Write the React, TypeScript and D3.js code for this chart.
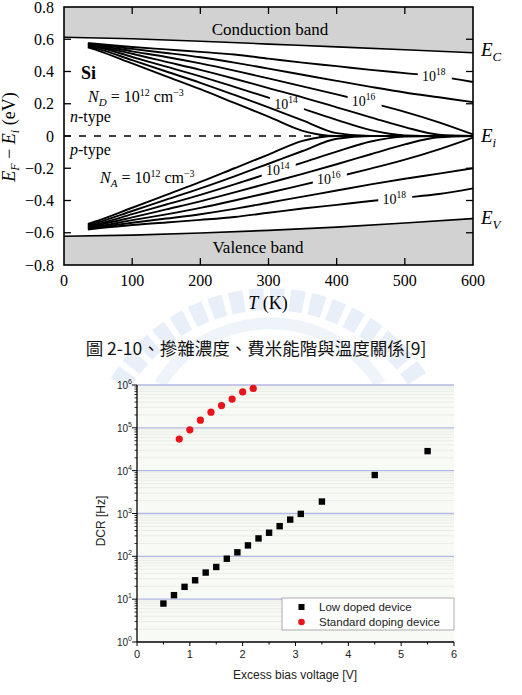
import * as d3 from "d3";

// ---- top chart: Fermi level vs temperature (Si) ----
const tempK = [35, 50, 100, 150, 200, 250, 300, 350, 400, 450, 500, 550, 600];
const bandT = [0, 100, 200, 300, 400, 500, 600];
const condEdge = [0.612, 0.603, 0.588, 0.57, 0.553, 0.535, 0.516];
const valEdge = [-0.622, -0.615, -0.602, -0.585, -0.565, -0.54, -0.512];

const nType12 = [0.55, 0.53, 0.45, 0.37, 0.29, 0.205, 0.12, 0.032, 0, 0, 0, 0, 0];
const nType13 = [0.555, 0.54, 0.47, 0.4, 0.33, 0.255, 0.178, 0.097, 0.018, 0, 0, 0, 0];
const nType14 = [0.56, 0.55, 0.49, 0.43, 0.37, 0.305, 0.238, 0.17, 0.1, 0.036, 0.004, 0, 0];
const nType15 = [0.565, 0.555, 0.51, 0.46, 0.41, 0.355, 0.297, 0.24, 0.178, 0.116, 0.055, 0.008, 0];
const nType16 = [0.57, 0.562, 0.525, 0.49, 0.45, 0.405, 0.357, 0.308, 0.258, 0.206, 0.15, 0.085, 0.01];
const nType17 = [0.573, 0.567, 0.54, 0.515, 0.488, 0.455, 0.418, 0.38, 0.342, 0.305, 0.27, 0.24, 0.21];
const nType18 = [0.576, 0.571, 0.552, 0.537, 0.522, 0.505, 0.48, 0.455, 0.433, 0.41, 0.39, 0.37, 0.335];

const pType12 = [-0.545, -0.525, -0.445, -0.365, -0.285, -0.2, -0.115, -0.03, 0, 0, 0, 0, 0];
const pType13 = [-0.552, -0.535, -0.465, -0.395, -0.325, -0.25, -0.172, -0.093, -0.017, 0, 0, 0, 0];
const pType14 = [-0.558, -0.545, -0.485, -0.425, -0.365, -0.3, -0.232, -0.165, -0.097, -0.034, -0.004, 0, 0];
const pType15 = [-0.564, -0.552, -0.505, -0.455, -0.405, -0.35, -0.292, -0.235, -0.175, -0.113, -0.052, -0.008, 0];
const pType16 = [-0.57, -0.56, -0.522, -0.486, -0.446, -0.4, -0.352, -0.303, -0.254, -0.202, -0.147, -0.083, -0.01];
const pType17 = [-0.575, -0.567, -0.538, -0.512, -0.485, -0.452, -0.414, -0.376, -0.338, -0.3, -0.265, -0.233, -0.2];
const pType18 = [-0.58, -0.573, -0.552, -0.536, -0.52, -0.502, -0.476, -0.45, -0.427, -0.403, -0.382, -0.36, -0.325];

const nCurves = [nType12, nType13, nType14, nType15, nType16, nType17, nType18];
const pCurves = [pType12, pType13, pType14, pType15, pType16, pType17, pType18];
const curveExp = ["12", "13", "14", "15", "16", "17", "18"];
// labelled curves: exponent -> temperature where the label sits
const nLabelAt: Record<string, number> = { "14": 327, "16": 441, "18": 544 };
const pLabelAt: Record<string, number> = { "14": 315, "16": 390, "18": 486 };

const yTicks = [-0.8, -0.6, -0.4, -0.2, 0, 0.2, 0.4, 0.6, 0.8];
const yTickLabels = ["\u22120.8", "\u22120.6", "\u22120.4", "\u22120.2", "0", "0.2", "0.4", "0.6", "0.8"];
const tTicks = [0, 100, 200, 300, 400, 500, 600];

// ---- bottom chart: DCR vs excess bias ----
const lowBias = [0.5, 0.7, 0.9, 1.1, 1.3, 1.5, 1.7, 1.9, 2.1, 2.3, 2.5, 2.7, 2.9, 3.1, 3.5, 4.5, 5.5];
const lowDcr = [7.9, 12.4, 19.4, 27.6, 41.8, 56.4, 88, 124, 180, 262, 356, 506, 720, 980, 1900, 7900, 28600];
const stdBias = [0.8, 1.0, 1.2, 1.4, 1.6, 1.8, 2.0, 2.2];
const stdDcr = [54600, 89700, 151000, 232000, 330000, 470000, 690000, 830000];
const decades = [0, 1, 2, 3, 4, 5, 6];
const biasTicks = [0, 1, 2, 3, 4, 5, 6];

const SERIF = '"Liberation Serif", serif';
const SANS = '"Liberation Sans", Arial, sans-serif';
const CJK = '"Noto Sans CJK TC", "Noto Sans CJK SC", sans-serif';

function FermiChart() {
  const x = d3.scaleLinear().domain([0, 600]).range([64, 473]);
  const y = d3.scaleLinear().domain([-0.8, 0.8]).range([265, 7]);
  const [x0, x1] = x.range();
  const yTop = y(0.8);
  const yBot = y(-0.8);

  const curve = d3
    .line<number>()
    .x((_, i) => x(tempK[i]))
    .y((v) => y(v))
    .curve(d3.curveMonotoneX);
  const edge = d3
    .line<number>()
    .x((_, i) => x(bandT[i]))
    .y((v) => y(v))
    .curve(d3.curveMonotoneX);
  const condArea = d3
    .area<number>()
    .x((_, i) => x(bandT[i]))
    .y0(yTop)
    .y1((v) => y(v))
    .curve(d3.curveMonotoneX);
  const valArea = d3
    .area<number>()
    .x((_, i) => x(bandT[i]))
    .y0(yBot)
    .y1((v) => y(v))
    .curve(d3.curveMonotoneX);

  const labelPos = (vals: number[], t: number) => {
    const interp = d3.scaleLinear().domain(tempK).range(vals);
    return { lx: x(t), ly: y(interp(t)) };
  };

  const renderSet = (set: number[][], labels: Record<string, number>, tag: string) =>
    set.map((vals, i) => {
      const e = curveExp[i];
      const t = labels[e];
      if (t === undefined) {
        return <path key={tag + e} d={curve(vals) ?? ""} fill="none" stroke="#000" strokeWidth={1.9} />;
      }
      const { lx, ly } = labelPos(vals, t);
      const id = `gap-${tag}-${e}`;
      return (
        <g key={tag + e}>
          <mask id={id} maskUnits="userSpaceOnUse" x={0} y={0} width={522} height={300}>
            <rect x={0} y={0} width={522} height={300} fill="#fff" />
            <rect x={lx - 17} y={ly - 9} width={34} height={18} fill="#000" />
          </mask>
          <path d={curve(vals) ?? ""} fill="none" stroke="#000" strokeWidth={1.9} mask={`url(#${id})`} />
          <text x={lx - 1} y={ly + 5} fontSize={14} textAnchor="middle" fontFamily={SERIF}>
            10<tspan fontSize={9.5} dy={-6}>{e}</tspan>
          </text>
        </g>
      );
    });

  return (
    <g>
      <path d={condArea(condEdge) ?? ""} fill="#d2d2d2" />
      <path d={valArea(valEdge) ?? ""} fill="#d2d2d2" />
      <path d={edge(condEdge) ?? ""} fill="none" stroke="#000" strokeWidth={1.6} />
      <path d={edge(valEdge) ?? ""} fill="none" stroke="#000" strokeWidth={1.6} />

      <line x1={x0} x2={x1} y1={y(0)} y2={y(0)} stroke="#000" strokeWidth={1.5} strokeDasharray="7 8" />

      {renderSet(nCurves, nLabelAt, "n")}
      {renderSet(pCurves, pLabelAt, "p")}

      {/* frame and ticks */}
      <rect x={x0} y={yTop} width={x1 - x0} height={yBot - yTop} fill="none" stroke="#000" strokeWidth={1.6} />
      {tTicks.slice(1, -1).map((t) => (
        <g key={"tt" + t}>
          <line x1={x(t)} x2={x(t)} y1={yTop} y2={yTop + 7} stroke="#000" strokeWidth={1.3} />
          <line x1={x(t)} x2={x(t)} y1={yBot} y2={yBot - 7} stroke="#000" strokeWidth={1.3} />
        </g>
      ))}
      {yTicks.slice(1, -1).map((v) => (
        <g key={"yt" + v}>
          <line x1={x0} x2={x0 + 7} y1={y(v)} y2={y(v)} stroke="#000" strokeWidth={1.3} />
          <line x1={x1} x2={x1 - 7} y1={y(v)} y2={y(v)} stroke="#000" strokeWidth={1.3} />
        </g>
      ))}

      {yTicks.map((v, i) => (
        <text key={"yl" + v} x={x0 - 10} y={y(v) + 5.5} textAnchor="end" fontFamily={SERIF} fontSize={16}>
          {yTickLabels[i]}
        </text>
      ))}
      {tTicks.map((t) => (
        <text key={"tl" + t} x={x(t)} y={286} textAnchor="middle" fontFamily={SERIF} fontSize={16}>
          {t}
        </text>
      ))}
      <text x={268} y={309} textAnchor="middle" fontFamily={SERIF} fontSize={18}>
        <tspan fontStyle="italic">T</tspan> (K)
      </text>
      <text transform={`translate(15,137) rotate(-90)`} textAnchor="middle" fontFamily={SERIF} fontSize={18}>
        <tspan fontStyle="italic">E</tspan>
        <tspan fontStyle="italic" fontSize={12} dy={4}>F</tspan>
        <tspan dy={-4}> {"\u2212"} </tspan>
        <tspan fontStyle="italic">E</tspan>
        <tspan fontStyle="italic" fontSize={12} dy={4}>i</tspan>
        <tspan dy={-4}> (eV)</tspan>
      </text>

      <text x={270} y={35} textAnchor="middle" fontFamily={SERIF} fontSize={17}>Conduction band</text>
      <text x={258} y={253} textAnchor="middle" fontFamily={SERIF} fontSize={17}>Valence band</text>

      <text x={81} y={79} fontFamily={SERIF} fontSize={18} fontWeight="bold">Si</text>
      <text x={88} y={102} fontFamily={SERIF} fontSize={16}>
        <tspan fontStyle="italic">N</tspan>
        <tspan fontStyle="italic" fontSize={11} dy={4}>D</tspan>
        <tspan dy={-4}> = 10</tspan>
        <tspan fontSize={10} dy={-6}>12</tspan>
        <tspan dy={6}> cm</tspan>
        <tspan fontSize={10} dy={-6}>{"\u22123"}</tspan>
      </text>
      <text x={70} y={122} fontFamily={SERIF} fontSize={16}>
        <tspan fontStyle="italic">n</tspan>-type
      </text>
      <text x={70} y={155} fontFamily={SERIF} fontSize={16}>
        <tspan fontStyle="italic">p</tspan>-type
      </text>
      <text x={100} y={183} fontFamily={SERIF} fontSize={16}>
        <tspan fontStyle="italic">N</tspan>
        <tspan fontStyle="italic" fontSize={11} dy={4}>A</tspan>
        <tspan dy={-4}> = 10</tspan>
        <tspan fontSize={10} dy={-6}>12</tspan>
        <tspan dy={6}> cm</tspan>
        <tspan fontSize={10} dy={-6}>{"\u22123"}</tspan>
      </text>

      <text x={481} y={56} fontFamily={SERIF} fontSize={19}>
        <tspan fontStyle="italic">E</tspan>
        <tspan fontStyle="italic" fontSize={13} dy={5}>C</tspan>
      </text>
      <text x={481} y={142} fontFamily={SERIF} fontSize={19}>
        <tspan fontStyle="italic">E</tspan>
        <tspan fontStyle="italic" fontSize={13} dy={5}>i</tspan>
      </text>
      <text x={481} y={224} fontFamily={SERIF} fontSize={19}>
        <tspan fontStyle="italic">E</tspan>
        <tspan fontStyle="italic" fontSize={13} dy={5}>V</tspan>
      </text>
    </g>
  );
}

function DcrChart() {
  const x = d3.scaleLinear().domain([0, 6]).range([137, 454]);
  const y = d3.scaleLog().domain([1, 1e6]).range([642, 385]);
  const [x0, x1] = x.range();
  const minors: number[] = [];
  decades.slice(0, -1).forEach((d) => {
    for (let k = 2; k <= 9; k++) minors.push(k * Math.pow(10, d));
  });
  const halfTicks = d3.range(0.5, 6, 1);

  return (
    <g>
      <rect x={x0} y={y(1e6)} width={x1 - x0} height={y(1) - y(1e6)} fill="#f8faf5" />
      {minors.map((m) => (
        <line key={"mg" + m} x1={x0} x2={x1} y1={y(m)} y2={y(m)} stroke="#e9ede4" strokeWidth={1} />
      ))}
      {decades.slice(1).map((d) => (
        <line key={"g" + d} x1={x0} x2={x1} y1={y(Math.pow(10, d))} y2={y(Math.pow(10, d))} stroke="#b3b7e2" strokeWidth={1.3} />
      ))}

      {/* axes */}
      <line x1={x0} x2={x0} y1={y(1e6)} y2={y(1)} stroke="#000" strokeWidth={1.3} />
      <line x1={x0} x2={x1} y1={y(1)} y2={y(1)} stroke="#000" strokeWidth={1.3} />
      {minors.map((m) => (
        <line key={"mt" + m} x1={x0 - 2.5} x2={x0} y1={y(m)} y2={y(m)} stroke="#000" strokeWidth={0.8} />
      ))}
      {decades.map((d) => (
        <g key={"yt" + d}>
          <line x1={x0 - 5} x2={x0} y1={y(Math.pow(10, d))} y2={y(Math.pow(10, d))} stroke="#000" strokeWidth={1} />
          <text x={x0 - 5} y={y(Math.pow(10, d)) + 4} fontFamily={SANS} fontSize={10} textAnchor="end" fill="#222">
            10<tspan fontSize={7} dy={-5}>{d}</tspan>
          </text>
        </g>
      ))}
      {biasTicks.map((b) => (
        <g key={"xt" + b}>
          <line x1={x(b)} x2={x(b)} y1={y(1)} y2={y(1) + 4} stroke="#000" strokeWidth={1} />
          <text x={x(b)} y={y(1) + 16} fontFamily={SANS} fontSize={11} textAnchor="middle" fill="#222">{b}</text>
        </g>
      ))}
      {halfTicks.map((b) => (
        <line key={"hx" + b} x1={x(b)} x2={x(b)} y1={y(1)} y2={y(1) + 2.5} stroke="#000" strokeWidth={1} />
      ))}
      <text x={295} y={679} fontFamily={SANS} fontSize={12} textAnchor="middle" fill="#222">Excess bias voltage [V]</text>
      <text transform="translate(105,521) rotate(-90)" fontFamily={SANS} fontSize={12} textAnchor="middle" fill="#222">DCR [Hz]</text>

      {/* data */}
      {lowBias.map((b, i) => (
        <rect key={"lo" + i} x={x(b) - 3.2} y={y(lowDcr[i]) - 3.2} width={6.4} height={6.4} fill="#000" />
      ))}
      {stdBias.map((b, i) => (
        <circle key={"st" + i} cx={x(b)} cy={y(stdDcr[i])} r={3.6} fill="#e8141b" />
      ))}

      {/* legend */}
      <rect x={282} y={598} width={172} height={32} fill="#fff" stroke="#9a9a9a" strokeWidth={0.8} />
      <rect x={298.5} y={604} width={6} height={6} fill="#000" />
      <text x={319} y={611} fontFamily={SANS} fontSize={11.5} fill="#222">Low doped device</text>
      <circle cx={301.5} cy={622} r={3.3} fill="#e8141b" />
      <text x={319} y={626} fontFamily={SANS} fontSize={11.5} fill="#222">Standard doping device</text>
    </g>
  );
}

function Watermark() {
  return (
    <g opacity={0.35} fill="none">
      <path d="M 120 384 A 175 175 0 0 1 420 384" stroke="#c3d2ee" strokeWidth={22} strokeDasharray="14 6" />
      <path d="M 160 384 A 130 130 0 0 1 380 384" stroke="#d4def2" strokeWidth={12} />
    </g>
  );
}

export default function App() {
  return (
    <svg
      width={522}
      height={695}
      viewBox="0 0 522 695"
      style={{ position: "absolute", left: 0, top: 0, background: "#fff" }}
    >
      <rect width={522} height={695} fill="#fff" />
      <Watermark />
      <FermiChart />
      <text x={256} y={355} fontSize={17.5} textAnchor="middle" fontFamily={CJK} fill="#111">
        圖 2-10、摻雜濃度、費米能階與溫度關係[9]
      </text>
      <DcrChart />
    </svg>
  );
}
